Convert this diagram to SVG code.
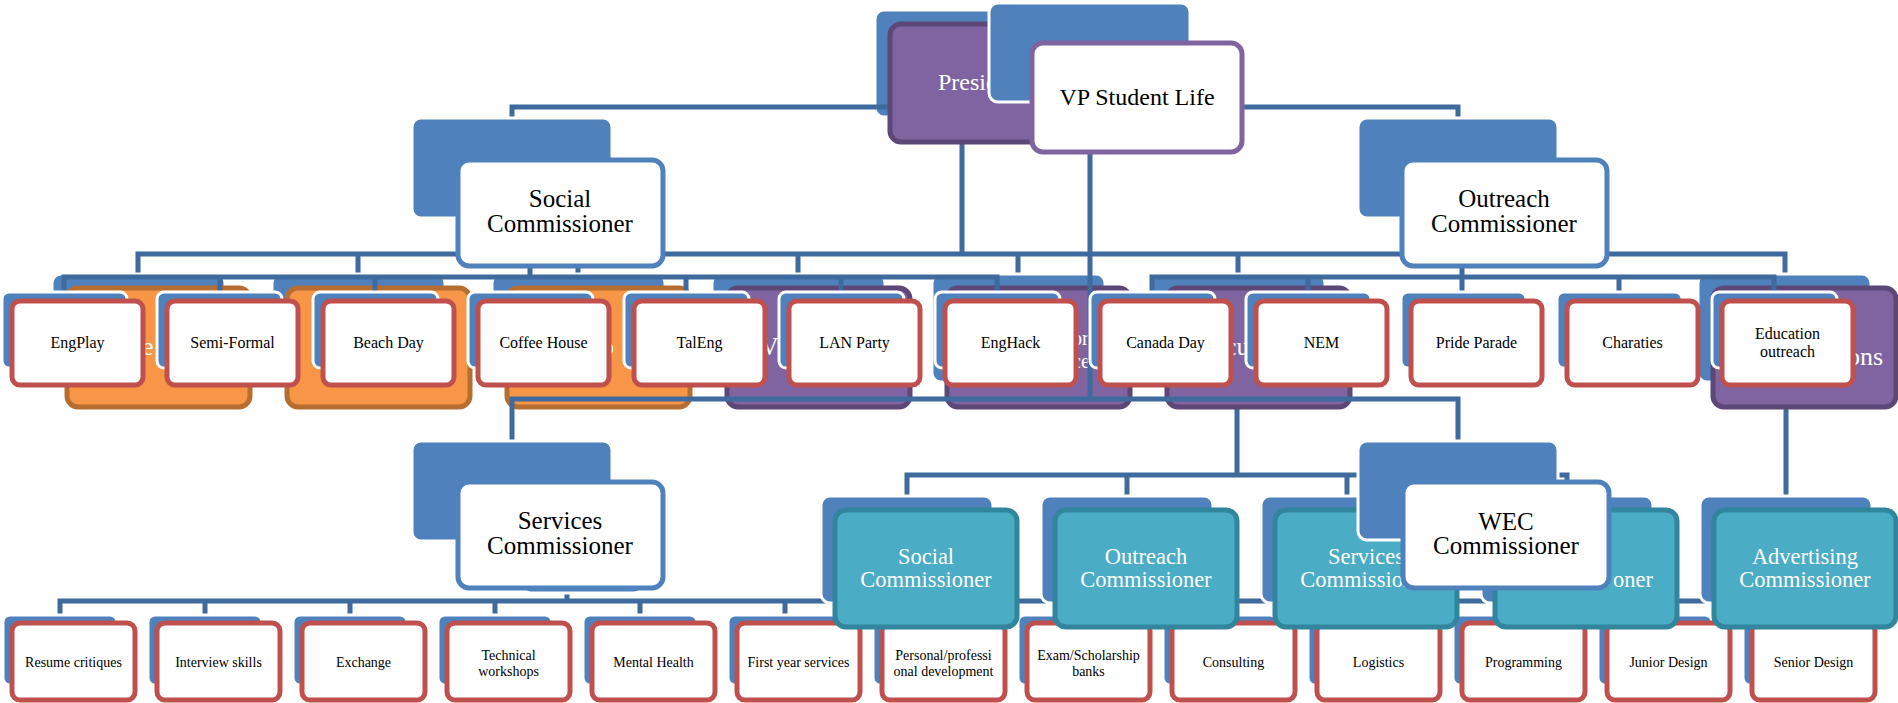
<svg xmlns="http://www.w3.org/2000/svg" width="1898" height="703" viewBox="0 0 1898 703">
<style>
.bk{fill:#4F81BD;stroke:#fff;stroke-width:3}
.wb{fill:#fff;stroke:#4F81BD;stroke-width:5}
.vp{fill:#fff;stroke:#8064A2;stroke-width:5}
.ev{fill:#fff;stroke:#C0504D;stroke-width:5}
.or{fill:#F79646;stroke:#B66D31;stroke-width:5}
.pu{fill:#8064A2;stroke:#5C4776;stroke-width:5}
.te{fill:#4BACC6;stroke:#31859C;stroke-width:5}
.ln{fill:none;stroke:#3E6A9E;stroke-width:5}
text{font-family:"Liberation Serif",serif}
.c{text-anchor:middle}
.big{font-size:25px;fill:#000}
.mid{font-size:22.5px;fill:#fff}
.e16{font-size:16px;fill:#000}
.e14{font-size:14px;fill:#000}
.frag{font-size:26px;fill:#fff}
</style>

<!-- bottom row (children of Services / WEC) -->
<g id="conn-bottom" class="ln">
<path d="M60,615V601H1075V615M205,601V615M350,601V615M495,601V615M640,601V615M785,601V615M930,601V615M567,588V601"/>
<path d="M1220,615V601H1800V615M1365,601V615M1510,590V615M1655,601V615"/>
</g>
<g id="n-resume"><rect class="bk" x="3" y="615" width="114" height="70" rx="7"/><rect class="ev" x="12" y="623" width="123" height="77" rx="8"/><text class="e14 c" x="73.5" y="667">Resume critiques</text></g>
<g id="n-interview"><rect class="bk" x="148" y="615" width="114" height="70" rx="7"/><rect class="ev" x="157" y="623" width="123" height="77" rx="8"/><text class="e14 c" x="218.5" y="667">Interview skills</text></g>
<g id="n-exchange"><rect class="bk" x="293" y="615" width="114" height="70" rx="7"/><rect class="ev" x="302" y="623" width="123" height="77" rx="8"/><text class="e14 c" x="363.5" y="667">Exchange</text></g>
<g id="n-technical"><rect class="bk" x="438" y="615" width="114" height="70" rx="7"/><rect class="ev" x="447" y="623" width="123" height="77" rx="8"/><text class="e14 c" x="508.5" y="660">Technical</text><text class="e14 c" x="508.5" y="676">workshops</text></g>
<g id="n-mental"><rect class="bk" x="583" y="615" width="114" height="70" rx="7"/><rect class="ev" x="592" y="623" width="123" height="77" rx="8"/><text class="e14 c" x="653.5" y="667">Mental Health</text></g>
<g id="n-firstyear"><rect class="bk" x="728" y="615" width="114" height="70" rx="7"/><rect class="ev" x="737" y="623" width="123" height="77" rx="8"/><text class="e14 c" x="798.5" y="667">First year services</text></g>
<g id="n-personal"><rect class="bk" x="873" y="615" width="114" height="70" rx="7"/><rect class="ev" x="882" y="623" width="123" height="77" rx="8"/><text class="e14 c" x="943.5" y="660">Personal/professi</text><text class="e14 c" x="943.5" y="676">onal development</text></g>
<g id="n-exam"><rect class="bk" x="1018" y="615" width="114" height="70" rx="7"/><rect class="ev" x="1027" y="623" width="123" height="77" rx="8"/><text class="e14 c" x="1088.5" y="660">Exam/Scholarship</text><text class="e14 c" x="1088.5" y="676">banks</text></g>
<g id="n-consulting"><rect class="bk" x="1163" y="615" width="114" height="70" rx="7"/><rect class="ev" x="1172" y="623" width="123" height="77" rx="8"/><text class="e14 c" x="1233.5" y="667">Consulting</text></g>
<g id="n-logistics"><rect class="bk" x="1308" y="615" width="114" height="70" rx="7"/><rect class="ev" x="1317" y="623" width="123" height="77" rx="8"/><text class="e14 c" x="1378.5" y="667">Logistics</text></g>
<g id="n-programming"><rect class="bk" x="1453" y="615" width="114" height="70" rx="7"/><rect class="ev" x="1462" y="623" width="123" height="77" rx="8"/><text class="e14 c" x="1523.5" y="667">Programming</text></g>
<g id="n-junior"><rect class="bk" x="1598" y="615" width="114" height="70" rx="7"/><rect class="ev" x="1607" y="623" width="123" height="77" rx="8"/><text class="e14 c" x="1668.5" y="667">Junior Design</text></g>
<g id="n-senior"><rect class="bk" x="1743" y="615" width="114" height="70" rx="7"/><rect class="ev" x="1752" y="623" width="123" height="77" rx="8"/><text class="e14 c" x="1813.5" y="667">Senior Design</text></g>

<!-- President tree -->
<g id="n-president-back"><rect class="bk" x="875" y="10" width="175" height="107" rx="9"/></g>
<g id="conn-president" class="ln">
<path d="M512,118V107H1458V118"/>
<path d="M962,142V254M138,274V254H1785V274M358,254V274M578,254V274M798,254V274M1018,254V274M1238,254V274"/>
<path d="M1237,407V475M907,496V475H1567V496M1127,475V496M1347,475V496M1786,407V496"/>
</g>
<g id="n-president"><rect class="pu" x="890" y="24" width="200" height="118" rx="11"/><text x="938" y="90" style="font-size:24px;fill:#fff">President</text></g>

<g id="n-l2-1"><rect class="bk" x="52" y="274" width="173" height="108" rx="9"/><rect class="or" x="67" y="288" width="183" height="119" rx="11"/><text class="frag" x="142" y="355">e</text></g>
<g id="n-l2-2"><rect class="bk" x="272" y="274" width="173" height="108" rx="9"/><rect class="or" x="287" y="288" width="183" height="119" rx="11"/></g>
<g id="n-l2-3"><rect class="bk" x="492" y="274" width="173" height="108" rx="9"/><rect class="or" x="507" y="288" width="183" height="119" rx="11"/><text class="frag" x="601" y="355">o</text></g>
<g id="n-l2-4"><rect class="bk" x="712" y="274" width="173" height="108" rx="9"/><rect class="pu" x="727" y="288" width="183" height="119" rx="11"/><text class="frag" x="760" y="355">V</text></g>
<g id="n-l2-5"><rect class="bk" x="932" y="274" width="173" height="108" rx="9"/><rect class="pu" x="947" y="288" width="183" height="119" rx="11"/><text class="frag" x="1072" y="345" style="font-size:20px">or</text><text class="frag" x="1072" y="368" style="font-size:20px">ce</text></g>
<g id="n-l2-6"><rect class="bk" x="1152" y="274" width="173" height="108" rx="9"/><rect class="pu" x="1167" y="288" width="183" height="119" rx="11"/><text class="frag" x="1225" y="355">cu</text></g>
<g id="n-l2-7"><rect class="bk" x="1698" y="274" width="173" height="108" rx="9"/><rect class="pu" x="1713" y="288" width="183" height="119" rx="11"/><text class="frag" x="1883" y="365" text-anchor="end">ons</text></g>

<g id="n-t-social"><rect class="bk" x="821" y="496" width="172" height="107" rx="9"/><rect class="te" x="835" y="510" width="182" height="117" rx="11"/><text class="mid c" x="926" y="564">Social</text><text class="mid c" x="926" y="587">Commissioner</text></g>
<g id="n-t-outreach"><rect class="bk" x="1041" y="496" width="172" height="107" rx="9"/><rect class="te" x="1055" y="510" width="182" height="117" rx="11"/><text class="mid c" x="1146" y="564">Outreach</text><text class="mid c" x="1146" y="587">Commissioner</text></g>
<g id="n-t-services"><rect class="bk" x="1261" y="496" width="172" height="107" rx="9"/><rect class="te" x="1275" y="510" width="182" height="117" rx="11"/><text class="mid c" x="1366" y="564">Services</text><text class="mid c" x="1366" y="587">Commissioner</text></g>
<g id="n-t-4"><rect class="bk" x="1481" y="496" width="172" height="107" rx="9"/><rect class="te" x="1495" y="510" width="182" height="117" rx="11"/><text class="mid" x="1653" y="587" text-anchor="end">oner</text></g>
<g id="n-t-advertising"><rect class="bk" x="1700" y="496" width="172" height="107" rx="9"/><rect class="te" x="1714" y="510" width="182" height="117" rx="11"/><text class="mid c" x="1805" y="564">Advertising</text><text class="mid c" x="1805" y="587">Commissioner</text></g>

<!-- VP Student Life tree -->
<g id="conn-vp" class="ln">
<path d="M1090,152V399M512,441V399H1458V441"/>
<path d="M530,266V277M64,292V277H997V292M220,277V292M375,277V292M686,277V292M841,277V292"/>
<path d="M1462,266V292M1152,292V277H1774V292M1308,277V292M1619,277V292"/>
</g>
<g id="n-vp"><rect class="bk" x="989" y="3" width="201" height="99" rx="9"/><rect class="vp" x="1032" y="43" width="210" height="109" rx="11"/><text class="big c" x="1137" y="105" style="font-size:24px">VP Student Life</text></g>
<g id="n-social"><rect class="bk" x="412" y="118" width="200" height="100" rx="9"/><rect class="wb" x="458" y="160" width="205" height="106" rx="11"/><text class="big c" x="560" y="207">Social</text><text class="big c" x="560" y="232">Commissioner</text></g>
<g id="n-outreach"><rect class="bk" x="1358" y="118" width="200" height="100" rx="9"/><rect class="wb" x="1402" y="160" width="205" height="106" rx="11"/><text class="big c" x="1504" y="207">Outreach</text><text class="big c" x="1504" y="232">Commissioner</text></g>

<g id="n-engplay"><rect class="bk" x="2" y="292" width="125" height="76" rx="7"/><rect class="ev" x="12" y="301" width="131" height="84" rx="8"/><text class="e16 c" x="77.5" y="348">EngPlay</text></g>
<g id="n-semiformal"><rect class="bk" x="157" y="292" width="125" height="76" rx="7"/><rect class="ev" x="167" y="301" width="131" height="84" rx="8"/><text class="e16 c" x="232.5" y="348">Semi-Formal</text></g>
<g id="n-beachday"><rect class="bk" x="313" y="292" width="125" height="76" rx="7"/><rect class="ev" x="323" y="301" width="131" height="84" rx="8"/><text class="e16 c" x="388.5" y="348">Beach Day</text></g>
<g id="n-coffeehouse"><rect class="bk" x="468" y="292" width="125" height="76" rx="7"/><rect class="ev" x="478" y="301" width="131" height="84" rx="8"/><text class="e16 c" x="543.5" y="348">Coffee House</text></g>
<g id="n-taleng"><rect class="bk" x="624" y="292" width="125" height="76" rx="7"/><rect class="ev" x="634" y="301" width="131" height="84" rx="8"/><text class="e16 c" x="699.5" y="348">TalEng</text></g>
<g id="n-lanparty"><rect class="bk" x="779" y="292" width="125" height="76" rx="7"/><rect class="ev" x="789" y="301" width="131" height="84" rx="8"/><text class="e16 c" x="854.5" y="348">LAN Party</text></g>
<g id="n-enghack"><rect class="bk" x="935" y="292" width="125" height="76" rx="7"/><rect class="ev" x="945" y="301" width="131" height="84" rx="8"/><text class="e16 c" x="1010.5" y="348">EngHack</text></g>
<g id="n-canadaday"><rect class="bk" x="1090" y="292" width="125" height="76" rx="7"/><rect class="ev" x="1100" y="301" width="131" height="84" rx="8"/><text class="e16 c" x="1165.5" y="348">Canada Day</text></g>
<g id="n-nem"><rect class="bk" x="1246" y="292" width="125" height="76" rx="7"/><rect class="ev" x="1256" y="301" width="131" height="84" rx="8"/><text class="e16 c" x="1321.5" y="348">NEM</text></g>
<g id="n-pride"><rect class="bk" x="1401" y="292" width="125" height="76" rx="7"/><rect class="ev" x="1411" y="301" width="131" height="84" rx="8"/><text class="e16 c" x="1476.5" y="348">Pride Parade</text></g>
<g id="n-charaties"><rect class="bk" x="1557" y="292" width="125" height="76" rx="7"/><rect class="ev" x="1567" y="301" width="131" height="84" rx="8"/><text class="e16 c" x="1632.5" y="348">Charaties</text></g>
<g id="n-education"><rect class="bk" x="1712" y="292" width="125" height="76" rx="7"/><rect class="ev" x="1722" y="301" width="131" height="84" rx="8"/><text class="e16 c" x="1787.5" y="339">Education</text><text class="e16 c" x="1787.5" y="357">outreach</text></g>

<g id="n-services"><rect class="bk" x="412" y="441" width="200" height="100" rx="9"/><rect class="bk" x="522" y="555" width="121" height="38" rx="9"/><rect class="wb" x="458" y="482" width="205" height="106" rx="11"/><text class="big c" x="560" y="529">Services</text><text class="big c" x="560" y="554">Commissioner</text></g>
<g id="n-wec"><rect class="bk" x="1358" y="441" width="200" height="99" rx="9"/><rect class="wb" x="1403" y="482" width="206" height="106" rx="11"/><text class="big c" x="1506" y="530">WEC</text><text class="big c" x="1506" y="554">Commissioner</text></g>
</svg>
